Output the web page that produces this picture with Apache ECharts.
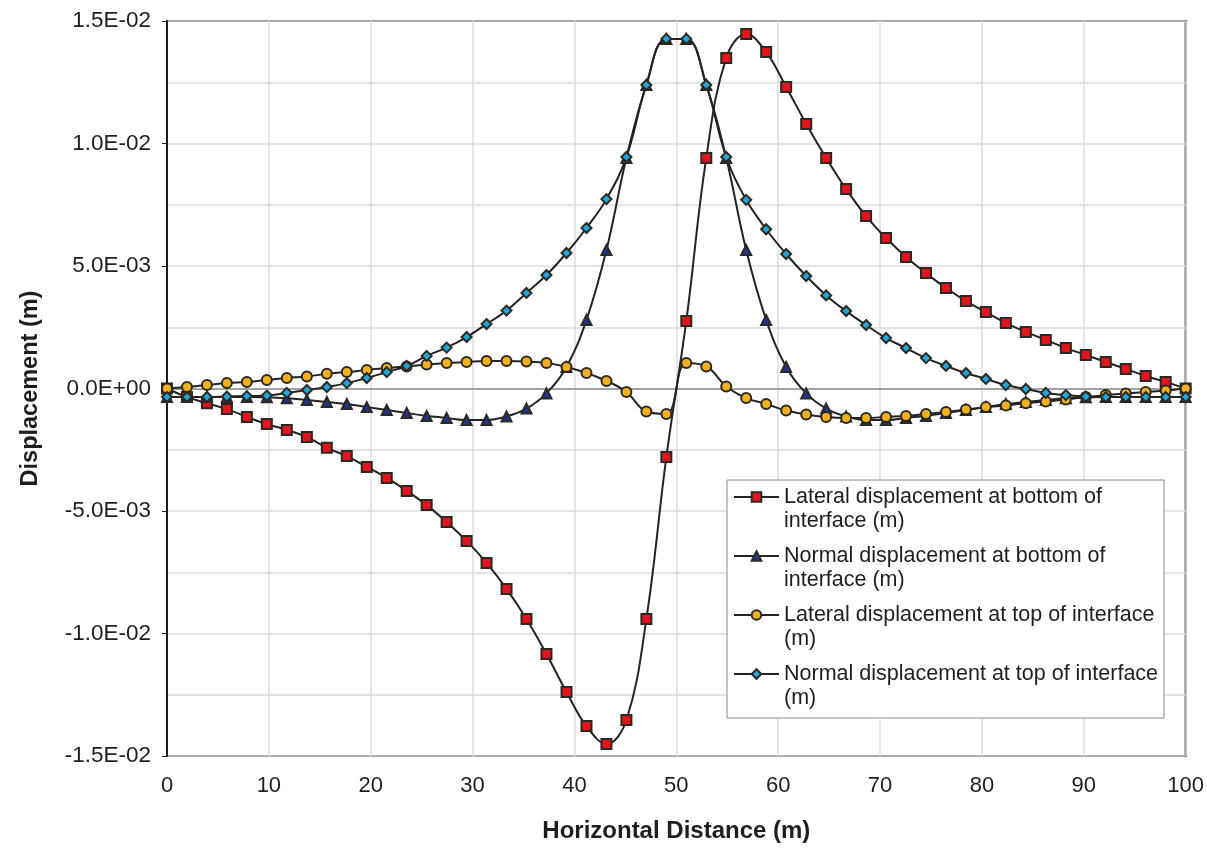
<!DOCTYPE html>
<html>
<head>
<meta charset="utf-8">
<script src="https://cdn.jsdelivr.net/npm/echarts@6/dist/echarts.min.js"></script>
<style>
html,body{margin:0;padding:0;background:#fff;}
#chart{width:1207px;height:850px;}
</style>
</head>
<body>
<div id="chart"></div>
<script>
// Horizontal distance (m) of each computed point
var distance = [0, 1.96, 3.92, 5.88, 7.84, 9.80, 11.76, 13.73, 15.69, 17.65, 19.61, 21.57, 23.53, 25.49, 27.45, 29.41, 31.37, 33.33, 35.29, 37.25, 39.22, 41.18, 43.14, 45.10, 47.06, 49.02, 50.98, 52.94, 54.90, 56.86, 58.82, 60.78, 62.75, 64.71, 66.67, 68.63, 70.59, 72.55, 74.51, 76.47, 78.43, 80.39, 82.35, 84.31, 86.27, 88.24, 90.20, 92.16, 94.12, 96.08, 98.04, 100];

// Displacements (m)
var lateralBottom = [0, -0.35e-3, -0.6e-3, -0.84e-3, -1.16e-3, -1.45e-3, -1.69e-3, -1.98e-3, -2.42e-3, -2.76e-3, -3.2e-3, -3.65e-3, -4.18e-3, -4.76e-3, -5.45e-3, -6.22e-3, -7.12e-3, -8.18e-3, -9.41e-3, -10.84e-3, -12.39e-3, -13.78e-3, -14.51e-3, -13.53e-3, -9.41e-3, -2.8e-3, 2.76e-3, 9.41e-3, 13.49e-3, 14.47e-3, 13.73e-3, 12.31e-3, 10.8e-3, 9.41e-3, 8.14e-3, 7.04e-3, 6.14e-3, 5.37e-3, 4.71e-3, 4.1e-3, 3.57e-3, 3.12e-3, 2.67e-3, 2.31e-3, 1.98e-3, 1.65e-3, 1.37e-3, 1.08e-3, 0.8e-3, 0.51e-3, 0.27e-3, 0];

var normalBottom = [-0.35e-3, -0.35e-3, -0.35e-3, -0.35e-3, -0.35e-3, -0.36e-3, -0.4e-3, -0.47e-3, -0.55e-3, -0.63e-3, -0.76e-3, -0.88e-3, -1.0e-3, -1.12e-3, -1.2e-3, -1.29e-3, -1.29e-3, -1.14e-3, -0.82e-3, -0.2e-3, 0.88e-3, 2.8e-3, 5.65e-3, 9.41e-3, 12.39e-3, 14.27e-3, 14.27e-3, 12.39e-3, 9.41e-3, 5.65e-3, 2.8e-3, 0.88e-3, -0.2e-3, -0.82e-3, -1.14e-3, -1.29e-3, -1.29e-3, -1.2e-3, -1.12e-3, -1.0e-3, -0.88e-3, -0.76e-3, -0.63e-3, -0.55e-3, -0.47e-3, -0.4e-3, -0.36e-3, -0.35e-3, -0.35e-3, -0.35e-3, -0.35e-3, -0.35e-3];

var lateralTop = [0, 0.06e-3, 0.14e-3, 0.22e-3, 0.27e-3, 0.35e-3, 0.43e-3, 0.49e-3, 0.6e-3, 0.67e-3, 0.76e-3, 0.84e-3, 0.9e-3, 0.98e-3, 1.04e-3, 1.08e-3, 1.12e-3, 1.12e-3, 1.1e-3, 1.04e-3, 0.88e-3, 0.63e-3, 0.31e-3, -0.14e-3, -0.94e-3, -1.04e-3, 1.04e-3, 0.9e-3, 0.08e-3, -0.39e-3, -0.63e-3, -0.9e-3, -1.06e-3, -1.16e-3, -1.2e-3, -1.2e-3, -1.16e-3, -1.12e-3, -1.04e-3, -0.96e-3, -0.86e-3, -0.76e-3, -0.69e-3, -0.6e-3, -0.53e-3, -0.45e-3, -0.35e-3, -0.27e-3, -0.2e-3, -0.14e-3, -0.08e-3, 0];

var normalTop = [-0.35e-3, -0.35e-3, -0.35e-3, -0.33e-3, -0.31e-3, -0.29e-3, -0.18e-3, -0.06e-3, 0.06e-3, 0.22e-3, 0.43e-3, 0.67e-3, 0.92e-3, 1.33e-3, 1.67e-3, 2.1e-3, 2.63e-3, 3.18e-3, 3.9e-3, 4.63e-3, 5.53e-3, 6.55e-3, 7.73e-3, 9.45e-3, 12.39e-3, 14.27e-3, 14.27e-3, 12.39e-3, 9.45e-3, 7.7e-3, 6.5e-3, 5.49e-3, 4.59e-3, 3.8e-3, 3.16e-3, 2.59e-3, 2.06e-3, 1.65e-3, 1.24e-3, 0.92e-3, 0.63e-3, 0.39e-3, 0.14e-3, -0.02e-3, -0.18e-3, -0.27e-3, -0.33e-3, -0.35e-3, -0.35e-3, -0.35e-3, -0.35e-3, -0.35e-3];

var seriesNames = [
  'Lateral displacement at bottom of\ninterface (m)',
  'Normal displacement at bottom of\ninterface (m)',
  'Lateral displacement at top of interface\n(m)',
  'Normal displacement at top of interface\n(m)'
];

var xTitle = 'Horizontal Distance (m)';
var yTitle = 'Displacement (m)';

function pairs(ys) { return distance.map(function (x, i) { return [x, ys[i]]; }); }

function sci(v) {
  if (Math.abs(v) < 1e-12) return '0.0E+00';
  var s = v.toExponential(1).split('e');
  var e = s[1];
  var sign = e.charAt(0) === '-' ? '-' : '+';
  var d = e.replace(/^[+-]/, '');
  if (d.length < 2) d = '0' + d;
  return s[0] + 'E' + sign + d;
}

var FONT = '"Liberation Sans", Arial, sans-serif';
var LINE = '#232323';
var EDGE = '#2a2a22';

function mk(name, data, symbol, size, fill) {
  return {
    name: name,
    type: 'line',
    data: pairs(data),
    smooth: 0.4,
    symbol: symbol,
    symbolSize: size,
    showAllSymbol: true,
    lineStyle: { color: LINE, width: 2 },
    itemStyle: { color: fill, borderColor: EDGE, borderWidth: 2 },
    emphasis: { disabled: true },
    z: 3
  };
}

var chart = echarts.init(document.getElementById('chart'), null, { renderer: 'canvas' });
chart.setOption({
  animation: false,
  backgroundColor: '#ffffff',
  textStyle: { fontFamily: FONT },
  grid: {
    left: 167, top: 21, right: 20, bottom: 94,
    show: true, borderColor: '#1c1c1c', borderWidth: 2,
    backgroundColor: 'transparent'
  },
  legend: {
    orient: 'vertical',
    left: 727, top: 480,
    padding: [-19, 6, 8, 6],
    itemGap: -13,
    itemWidth: 45, itemHeight: 12,
    backgroundColor: '#ffffff',
    borderColor: '#8a8a8a', borderWidth: 1,
    formatter: function (name) { return '\n' + name; },
    textStyle: { fontFamily: FONT, fontSize: 21.5, color: '#1e1e1e', lineHeight: 24 },
    data: seriesNames
  },
  xAxis: [{
    type: 'value', min: 0, max: 100, interval: 10,
    name: xTitle, nameLocation: 'middle', nameGap: 63,
    nameTextStyle: { fontFamily: FONT, fontSize: 24, fontWeight: 'bold', color: '#1e1e1e' },
    axisLine: { show: false, onZero: false },
    axisTick: { show: false },
    axisLabel: { fontFamily: FONT, fontSize: 22, color: '#1e1e1e', margin: 19 },
    splitLine: { show: true, lineStyle: { color: '#dcdcdc', width: 1.5 } }
  }, {
    type: 'value', min: 0, max: 100, position: 'top',
    axisLine: { show: true, onZero: true, lineStyle: { color: '#8c8c8c', width: 1.5 } },
    axisTick: { show: false }, axisLabel: { show: false }, splitLine: { show: false }
  }],
  yAxis: {
    type: 'value', min: -0.015, max: 0.015, interval: 0.005,
    name: yTitle, nameLocation: 'middle', nameGap: 124, nameRotate: 90,
    nameTextStyle: { fontFamily: FONT, fontSize: 23.5, fontWeight: 'bold', color: '#1e1e1e' },
    axisLine: { show: true, lineStyle: { color: '#1c1c1c', width: 2 } },
    axisTick: { show: true, length: 5, lineStyle: { color: '#1c1c1c', width: 1 } },
    axisLabel: { fontFamily: FONT, fontSize: 22.5, color: '#1e1e1e', margin: 16, formatter: sci },
    minorTick: { show: false, splitNumber: 2 },
    splitLine: { show: true, lineStyle: { color: '#dcdcdc', width: 1.5 } },
    minorSplitLine: { show: true, lineStyle: { color: '#dcdcdc', width: 1.5 } }
  },
  series: [
    mk(seriesNames[0], lateralBottom, 'rect', 10, '#e3141b'),
    mk(seriesNames[1], normalBottom, 'triangle', 10, '#23328e'),
    mk(seriesNames[2], lateralTop, 'circle', 10, '#f2b01e'),
    mk(seriesNames[3], normalTop, 'diamond', 10, '#1fa6dc')
  ]
});
</script>
</body>
</html>
